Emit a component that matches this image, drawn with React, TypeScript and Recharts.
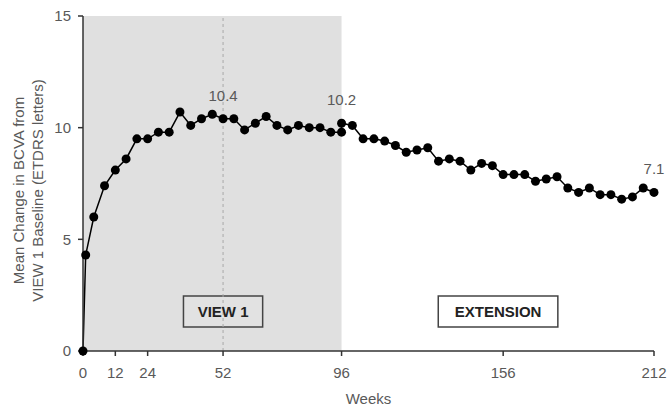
import React from 'react';
import { LineChart, Line, XAxis, YAxis, ReferenceArea, ReferenceLine, LabelList } from 'recharts';

const weeks = [
  0, 1, 4, 8, 12, 16, 20, 24, 28, 32, 36, 40, 44, 48, 52, 56, 60, 64, 68, 72, 76, 80, 84, 88, 92, 96, 96,
  100, 104, 108, 112, 116, 120, 124, 128, 132, 136, 140, 144, 148, 152, 156, 160, 164, 168, 172, 176,
  180, 184, 188, 192, 196, 200, 204, 208, 212,
];
const meanChange = [
  0, 4.3, 6.0, 7.4, 8.1, 8.6, 9.5, 9.5, 9.8, 9.8, 10.7, 10.1, 10.4, 10.6, 10.4, 10.4, 9.9, 10.2, 10.5, 10.1,
  9.9, 10.1, 10.0, 10.0, 9.8, 9.8, 10.2,
  10.1, 9.5, 9.5, 9.4, 9.2, 8.9, 9.0, 9.1, 8.5, 8.6, 8.5, 8.1, 8.4, 8.3, 7.9, 7.9, 7.9, 7.6, 7.7, 7.8,
  7.3, 7.1, 7.3, 7.0, 7.0, 6.8, 6.9, 7.3, 7.1,
];
// index of the points that carry a value label
const labelled = [14, 26, 55];

const xTicks = [0, 12, 24, 52, 96, 156, 212];
const yTicks = [0, 5, 10, 15];

const viewPeriodEnd = 96;
const phaseBoxes = [
  { name: 'VIEW 1', x1: 37.3, x2: 66.7, fill: '#e2e2e2' },
  { name: 'EXTENSION', x1: 131.9, x2: 176.3, fill: '#ffffff' },
];
const boxY = [1.07, 2.46];

const data = weeks.map((w, i) => ({
  week: w,
  value: meanChange[i],
  label: labelled.includes(i) ? meanChange[i].toFixed(1) : null,
}));

const textGray = '#595959';
const axisColor = '#333333';

const YAxisTitle = ({ viewBox }: any) => {
  const cx = viewBox.x;
  const cy = viewBox.y + viewBox.height / 2 + 7;
  const l1 = cx - 5;
  const l2 = cx + 14;
  return (
    <g fill={textGray} fontSize={15}>
      <text x={l1} y={cy} textAnchor="middle" dominantBaseline="central" transform={`rotate(-90, ${l1}, ${cy})`}>
        Mean Change in BCVA from
      </text>
      <text x={l2} y={cy} textAnchor="middle" dominantBaseline="central" transform={`rotate(-90, ${l2}, ${cy})`}>
        VIEW 1 Baseline (ETDRS letters)
      </text>
    </g>
  );
};

export default function App() {
  return (
    <div style={{ position: 'absolute', left: 0, top: 0, background: '#fff' }}>
      <LineChart
        width={667}
        height={410}
        data={data}
        margin={{ top: 16, right: 13, bottom: 19, left: 23 }}
        style={{ fontFamily: '"Liberation Sans", Arial, sans-serif' }}
      >
        <ReferenceArea x1={0} x2={viewPeriodEnd} y1={0} y2={15} fill="#e0e0e0" fillOpacity={1} stroke="none" />
        <ReferenceLine x={52} stroke="#a8a8a8" strokeDasharray="3 3" />
        {phaseBoxes.map((b) => (
          <ReferenceArea
            key={b.name}
            x1={b.x1}
            x2={b.x2}
            y1={boxY[0]}
            y2={boxY[1]}
            fill={b.fill}
            fillOpacity={1}
            stroke="#444"
            strokeWidth={1.5}
            label={{ value: b.name, position: 'center', fill: '#222', fontSize: 15, fontWeight: 'bold' }}
          />
        ))}
        <XAxis
          dataKey="week"
          type="number"
          domain={[0, 212]}
          ticks={xTicks}
          height={40}
          stroke={axisColor}
          strokeWidth={1.5}
          tickSize={5}
          tickMargin={11}
          tick={{ fill: textGray, fontSize: 15 }}
          label={{ value: 'Weeks', position: 'bottom', offset: 2, fill: textGray, fontSize: 15 }}
        />
        <YAxis
          type="number"
          domain={[0, 15]}
          ticks={yTicks}
          width={60}
          stroke={axisColor}
          strokeWidth={1.5}
          tickSize={5}
          tickMargin={7}
          tick={{ fill: textGray, fontSize: 15 }}
          label={{ content: <YAxisTitle /> }}
        />
        <Line
          dataKey="value"
          stroke="#000"
          strokeWidth={1.5}
          dot={{ r: 4.5, fill: '#000', stroke: 'none' }}
          activeDot={false}
          isAnimationActive={false}
        >
          <LabelList dataKey="label" position="top" offset={18} fill={textGray} fontSize={15} />
        </Line>
      </LineChart>
    </div>
  );
}
